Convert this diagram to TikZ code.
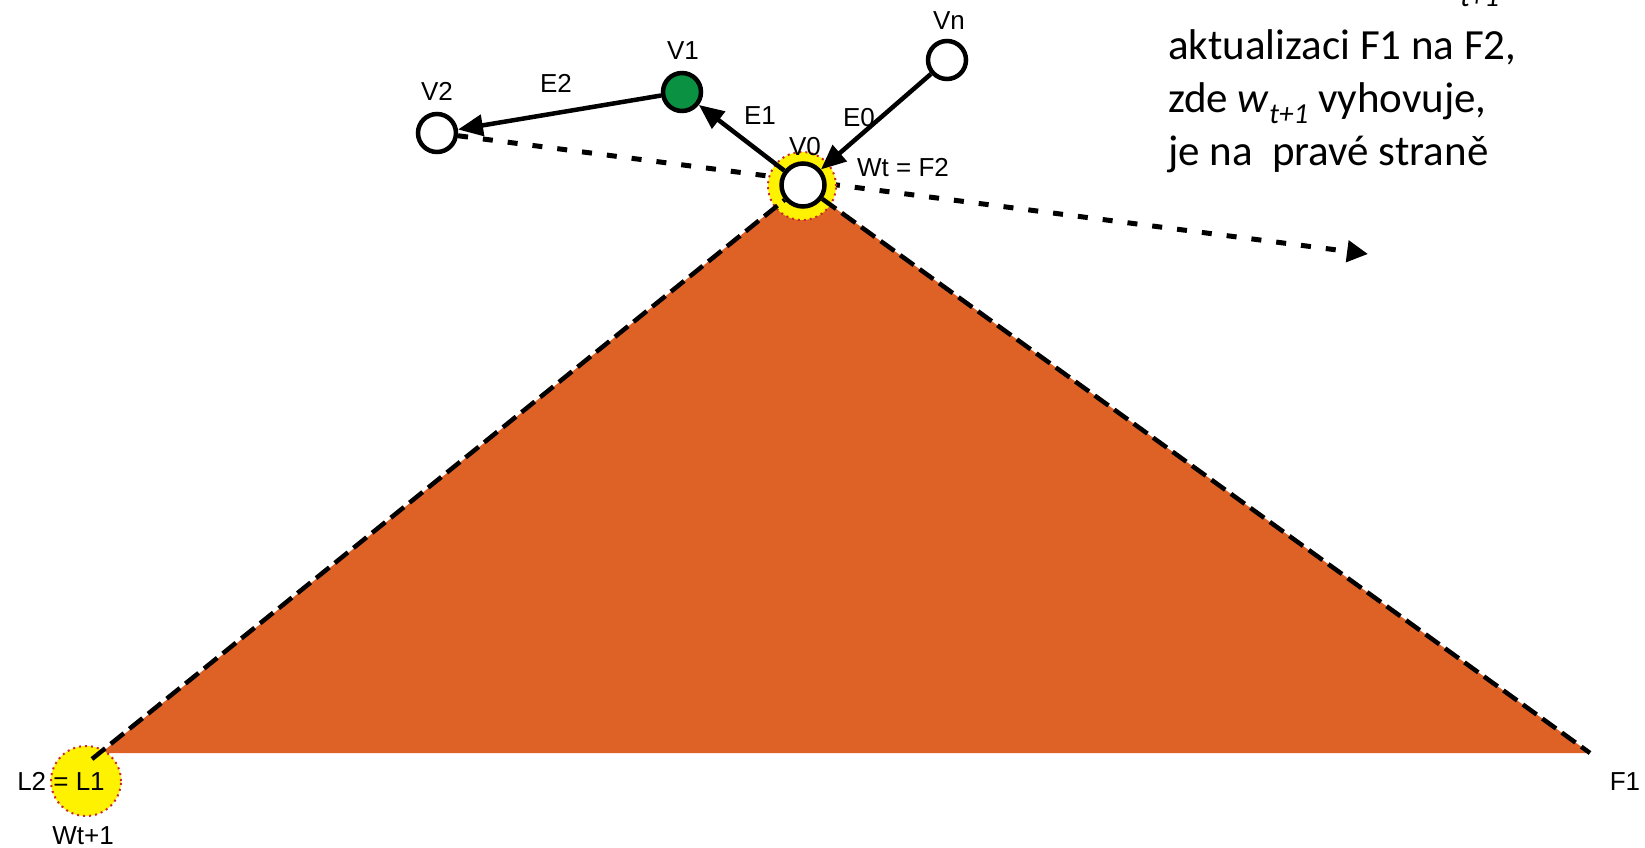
\documentclass[tikz,border=0pt]{standalone}
\usepackage{fontspec}
\usetikzlibrary{arrows.meta,backgrounds}
\newfontfamily\labelfamily{Liberation Sans}
\newfontfamily\notefamily{Carlito}
\newcommand\lblfont{\labelfamily\fontsize{26}{30}\selectfont}
\newcommand\notefont{\notefamily\fontsize{43}{53}\selectfont}
\newcommand\subidx[1]{\raisebox{-0.26em}{\fontsize{29}{30}\selectfont\itshape #1}}
\definecolor{orangefill}{RGB}{222,97,37}
\definecolor{haloyellow}{RGB}{255,242,0}
\definecolor{dotred}{RGB}{200,40,45}
\definecolor{vgreen}{RGB}{10,145,65}

\begin{document}
\begin{tikzpicture}[
  x=1pt,y=-1pt,
  vertex/.style={draw,circle,line width=4.5pt,fill=white,minimum size=38pt,inner sep=0pt},
  halo/.style={circle,fill=haloyellow,draw=dotred,line width=2pt,dash pattern=on 2pt off 4pt,minimum size=68pt,inner sep=0pt},
  edge/.style={-{Triangle[length=25pt,width=21pt]},line width=4.5pt},
  rim/.style={line width=4.5pt,dash pattern=on 17pt off 7pt},
  heading/.style={-{Triangle[length=21pt,width=21pt]},line width=5pt,dash pattern=on 10pt off 15pt},
  lbl/.style={font=\lblfont,inner sep=0pt},
  note/.style={font=\notefont,anchor=base west,inner sep=0pt}
]
  \useasboundingbox (0,0) rectangle (1645,847);

  % vertices
  \node[vertex,minimum size=43pt] (V0) at (803,185) {};
  \node[vertex,fill=vgreen] (V1) at (682,92) {};
  \node[vertex] (V2) at (437,133) {};
  \node[vertex] (Vn) at (947,60) {};

  \coordinate (Lfoot) at (92,759);
  \coordinate (Lcorner) at (101,753);
  \coordinate (Rcorner) at (1590,753);
  \coordinate (dirend) at (1368,254);

  \begin{scope}[on background layer]
    \draw[heading] (V2) -- (dirend);
    \fill[orangefill] (Lcorner) -- (V0.center) -- (Rcorner) -- cycle;
    \node[halo] (V0halo) at (802,186) {};
    \node[halo,minimum size=70pt] (L1halo) at (86,781) {};
  \end{scope}

  % sides of the triangle
  \draw[rim] (Lfoot) -- (V0);
  \draw[rim] (V0) -- (Rcorner);

  % walk along the edges
  \draw[edge] (Vn) -- (V0);
  \draw[edge] (V0) -- (V1);
  \draw[edge] (V1) -- (V2);

  % labels
  \node[lbl] (V0lbl) at (805,147) {V0};
  \node[lbl] (V1lbl) at (683,51) {V1};
  \node[lbl] (V2lbl) at (437,91) {V2};
  \node[lbl] (Vnlbl) at (949,21) {Vn};
  \node[lbl] (E0lbl) at (859,118) {E0};
  \node[lbl] (E1lbl) at (760,116) {E1};
  \node[lbl] (E2lbl) at (556,83) {E2};
  \node[lbl] (Wtlbl) at (903,168) {Wt = F2};
  \node[lbl] (Llbl) at (61,781) {L2 = L1};
  \node[lbl,anchor=base] (Wnextlbl) at (83,844) {Wt+1};
  \node[lbl] (F1lbl) at (1625,782) {F1};

  % note on the right
  \node[note] (cutsub) at (1460,6) {\fontsize{29}{30}\selectfont\itshape t+1};
  \node[note] (noteA) at (1168,59) {aktualizaci F1 na F2,};
  \node[note] (noteB) at (1168,112) {zde \textit{w}\subidx{t+1} vyhovuje,};
  \node[note] (noteC) at (1168,165) {je na\ \ pravé straně};
\end{tikzpicture}
\end{document}
